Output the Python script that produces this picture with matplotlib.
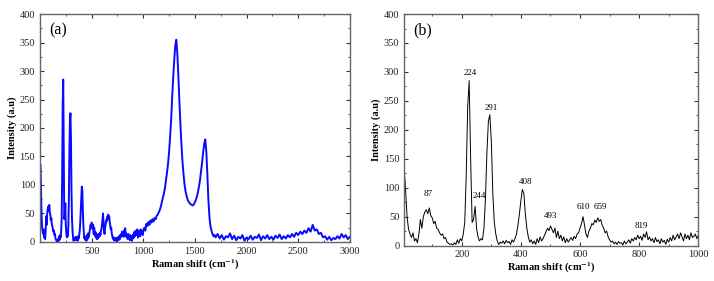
import numpy as np
import matplotlib
matplotlib.use("Agg")
import matplotlib.pyplot as plt
from matplotlib.ticker import MultipleLocator

plt.rcParams["font.family"] = ["Liberation Serif", "DejaVu Serif"]
plt.rcParams["mathtext.fontset"] = "stix"

# Raman spectrum, low range read every 5 cm-1
shift_low = np.arange(5, 1001, 5)
intensity_low = [
    135, 95, 50, 28, 20, 14, 22, 8, 12, 5,
    20, 45, 30, 50, 58, 62, 55, 65, 52, 48,
    38, 42, 30, 28, 22, 18, 20, 12, 14, 6,
    4, 2, 3, 1, 5, 2, 10, 4, 12, 8,
    20, 40, 120, 240, 285, 150, 40, 45, 68, 30,
    15, 8, 12, 10, 30, 80, 160, 215, 226, 180,
    90, 40, 20, 8, 2, 6, 4, 8, 3, 9,
    5, 7, 2, 10, 6, 12, 20, 35, 55, 78,
    97, 90, 55, 30, 15, 6, 10, 3, 8, 2,
    12, 5, 15, 8, 12, 18, 24, 30, 26, 34,
    28, 22, 30, 14, 25, 12, 18, 8, 15, 5,
    12, 6, 10, 14, 9, 16, 12, 20, 22, 30,
    38, 50, 36, 20, 14, 25, 30, 38, 36, 44,
    40, 48, 42, 45, 35, 30, 22, 25, 15, 10,
    6, 8, 3, 6, 2, 7, 4, 5, 1, 8,
    3, 6, 10, 4, 12, 8, 14, 10, 18, 12,
    16, 9, 20, 14, 24, 10, 15, 8, 12, 5,
    14, 7, 10, 3, 12, 6, 9, 2, 11, 6,
    14, 8, 18, 10, 15, 20, 12, 22, 15, 8,
    20, 12, 18, 10, 22, 14, 16, 20, 12, 18,
]

# D and G band region, every 10 cm-1
shift_mid = np.arange(1010, 1701, 10)
intensity_mid = [
    25, 20, 32, 28, 35, 30, 38, 34, 40, 36,
    42, 40, 46, 48, 52, 56, 62, 70, 78, 85,
    95, 108, 122, 138, 158, 185, 215, 255, 290, 320,
    345, 355, 330, 290, 245, 205, 170, 140, 118, 100,
    88, 80, 74, 70, 68, 66, 65, 64, 66, 70,
    74, 80, 88, 98, 110, 125, 140, 158, 172, 180,
    160, 120, 75, 45, 28, 20, 14, 10, 12, 8,
]

# high range, every 20 cm-1
shift_high = np.arange(1720, 3001, 20)
intensity_high = [
    14, 6, 12, 4, 10, 8, 15, 5, 11, 3,
    9, 6, 12, 2, 8, 5, 11, 4, 9, 7,
    13, 3, 10, 6, 12, 5, 9, 4, 11, 7,
    13, 5, 10, 6, 12, 8, 14, 9, 16, 12,
    18, 14, 20, 16, 24, 18, 30, 20, 22, 14,
    16, 8, 10, 4, 9, 3, 7, 5, 10, 6,
    14, 8, 12, 5, 9,
]

peak_pos = [87, 224, 244, 291, 408, 493, 610, 659, 819]
peak_label_x = [87, 228, 260, 299, 417, 499, 612, 669, 808]
peak_label_y = [89, 299, 85, 237, 110, 51, 66, 66, 33]

shift = np.concatenate([shift_low, shift_mid, shift_high])
intensity = np.concatenate([intensity_low, intensity_mid, intensity_high])

fig = plt.figure(figsize=(7.14, 2.81), dpi=100)
ax_a = fig.add_axes([0.056, 0.139, 0.434, 0.811])
ax_b = fig.add_axes([0.566, 0.126, 0.412, 0.824])


def style_axes(ax):
    for spine in ax.spines.values():
        spine.set_color("#666666")
        spine.set_linewidth(1.0)
    ax.tick_params(which="both", direction="in", top=True, right=True,
                   labelsize=7.5, colors="#333333", labelcolor="#222222")
    ax.tick_params(which="major", length=3)
    ax.tick_params(which="minor", length=1.5)
    ax.set_ylim(0, 400)
    ax.yaxis.set_major_locator(MultipleLocator(50))
    ax.yaxis.set_minor_locator(MultipleLocator(25))
    ax.set_xlabel("Raman shift (cm$^{\\mathbf{-1}}$)", fontsize=7.5,
                  fontweight="bold", labelpad=1)
    ax.set_ylabel("Intensity (a.u)", fontsize=7.5, fontweight="bold", labelpad=2)


ax_a.plot(shift, intensity, color="#0a0aff", linewidth=1.4)
style_axes(ax_a)
ax_a.set_xlim(0, 3000)
ax_a.set_xticks([500, 1000, 1500, 2000, 2500, 3000])
ax_a.xaxis.set_minor_locator(MultipleLocator(250))
ax_a.text(0.03, 0.93, "(a)", transform=ax_a.transAxes, fontsize=11.5,
          ha="left", va="center")

ax_b.plot(shift, intensity, color="black", linewidth=0.7)
style_axes(ax_b)
ax_b.set_xlim(5, 1000)
ax_b.set_xticks([200, 400, 600, 800, 1000])
ax_b.xaxis.set_minor_locator(MultipleLocator(100))
ax_b.text(0.03, 0.93, "(b)", transform=ax_b.transAxes, fontsize=11.5,
          ha="left", va="center")
for pos, lx, ly in zip(peak_pos, peak_label_x, peak_label_y):
    ax_b.text(lx, ly, str(pos), fontsize=6.5, ha="center", va="center")

fig.savefig("out.png", dpi=100)
